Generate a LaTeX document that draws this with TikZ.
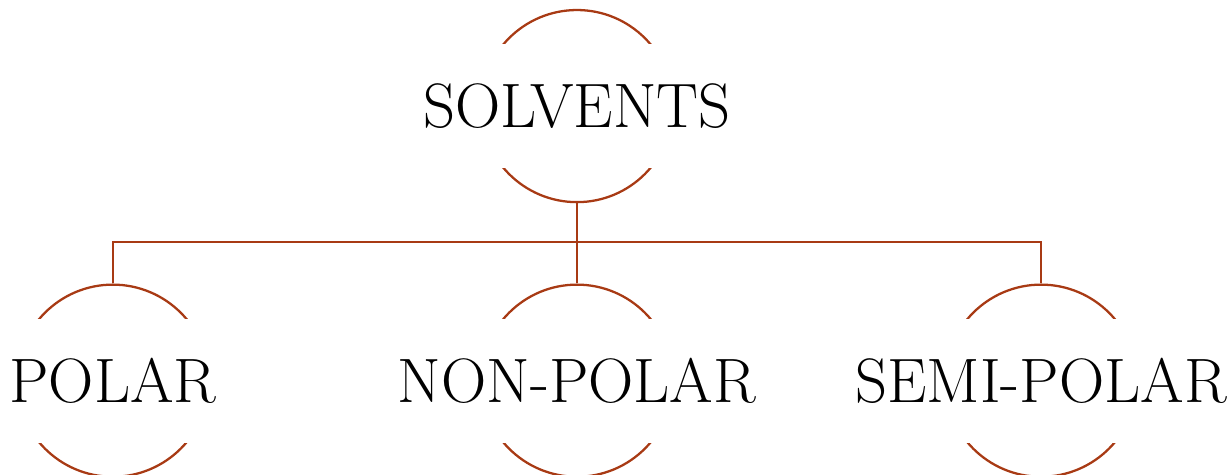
\documentclass[tikz,border=0pt]{standalone}
\usepackage{tikz}
\usetikzlibrary{positioning}
\usepackage{xcolor}
\definecolor{rust}{HTML}{A83A14}

\begin{document}
\begin{tikzpicture}[
  node distance=1.24cm and 4.17cm,
  ring/.style={draw=rust,line width=1pt,circle,minimum size=2.97cm,inner sep=0pt},
  tag/.style={fill=white,minimum height=1.92cm,font=\fontsize{27.6pt}{33pt}\selectfont},
  link/.style={rust,line width=1pt}
]
\useasboundingbox (-8.92,1.64) rectangle (10.08,-5.69);
\node[ring] (solvents) at (0,0) {};
\node[ring,below=of solvents] (nonpolar) {};
\node[ring,left=of nonpolar] (polar) {};
\node[ring,right=of nonpolar] (semipolar) {};

\node[tag] (solvents-t) at (solvents) {SOLVENTS};
\node[tag] (polar-t) at (polar) {POLAR};
\node[tag] (nonpolar-t) at (nonpolar) {NON-POLAR};
\node[tag] (semipolar-t) at (semipolar) {SEMI-POLAR};

\coordinate (bus) at ([yshift=-0.6cm]solvents.south);
\draw[link] (solvents.south) -- (nonpolar.north);
\draw[link] (polar.north) |- (bus) -| (semipolar.north);
\end{tikzpicture}
\end{document}
